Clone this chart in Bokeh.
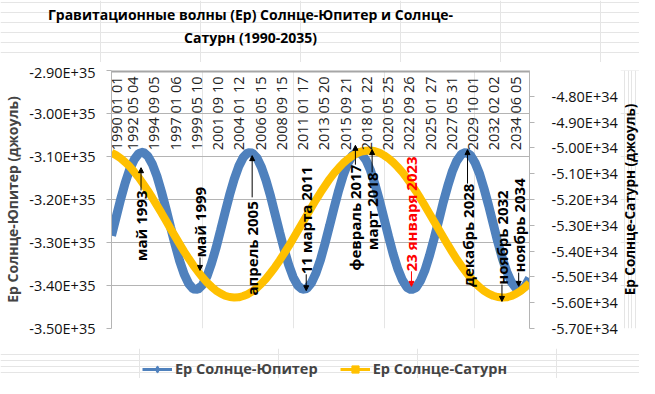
import numpy as np
from datetime import date
from bokeh.plotting import figure
from bokeh.layouts import column, row
from bokeh.models import (Range1d, LinearAxis, FixedTicker, CustomJSTickFormatter,
                          Legend, LegendItem, Span, Arrow, NormalHead,
                          ColumnDataSource, LabelSet, Label)
from bokeh.core.properties import value
from bokeh.embed import file_html
from bokeh.resources import INLINE

FONT = "Open Sans"

# half-year sample points (decimal years)
years = np.arange(1990.0, 2036.01, 0.5)

# Ep Sun-Jupiter, units of 1E+35 J (left axis)
jupiter_e35 = [-3.284, -3.242, -3.200, -3.162, -3.130, -3.107, -3.093, -3.090, -3.099, -3.118,
               -3.146, -3.182, -3.222, -3.264, -3.305, -3.343, -3.374, -3.396, -3.408, -3.409,
               -3.399, -3.379, -3.349, -3.313, -3.272, -3.230, -3.189, -3.153, -3.123, -3.102,
               -3.091, -3.092, -3.103, -3.125, -3.155, -3.192, -3.234, -3.276, -3.316, -3.352,
               -3.381, -3.400, -3.409, -3.407, -3.394, -3.371, -3.340, -3.302, -3.261, -3.219,
               -3.179, -3.144, -3.116, -3.098, -3.090, -3.094, -3.108, -3.132, -3.165, -3.203,
               -3.245, -3.287, -3.327, -3.361, -3.387, -3.404, -3.410, -3.405, -3.389, -3.364,
               -3.330, -3.291, -3.250, -3.207, -3.169, -3.135, -3.110, -3.095, -3.090, -3.097,
               -3.114, -3.140, -3.175, -3.214, -3.256, -3.298, -3.336, -3.368, -3.392, -3.406,
               -3.410, -3.402, -3.383]

# Ep Sun-Saturn, units of 1E+34 J (right axis)
saturn_e34 = [-5.019, -5.028, -5.040, -5.055, -5.072, -5.093, -5.115, -5.140, -5.166, -5.194,
              -5.223, -5.252, -5.282, -5.313, -5.343, -5.373, -5.402, -5.429, -5.455, -5.479,
              -5.501, -5.521, -5.538, -5.553, -5.564, -5.573, -5.578, -5.580, -5.579, -5.574,
              -5.567, -5.556, -5.543, -5.526, -5.507, -5.485, -5.462, -5.436, -5.409, -5.381,
              -5.351, -5.321, -5.291, -5.261, -5.231, -5.201, -5.173, -5.147, -5.121, -5.098,
              -5.078, -5.059, -5.044, -5.031, -5.021, -5.014, -5.011, -5.010, -5.013, -5.019,
              -5.029, -5.041, -5.056, -5.074, -5.094, -5.117, -5.142, -5.168, -5.196, -5.225,
              -5.255, -5.285, -5.315, -5.345, -5.375, -5.404, -5.432, -5.457, -5.481, -5.503,
              -5.523, -5.540, -5.554, -5.565, -5.573, -5.578, -5.580, -5.579, -5.574, -5.566,
              -5.555, -5.541, -5.524]

date_labels = ["1990 01 01", "1992 05 04", "1994 09 05", "1997 01 06", "1999 05 10",
               "2001 09 10", "2004 01 12", "2006 05 15", "2008 09 15", "2011 01 17",
               "2013 05 20", "2015 09 21", "2018 01 22", "2020 05 25", "2022 09 26",
               "2025 01 27", "2027 05 31", "2029 10 01", "2032 02 02", "2034 06 05"]

left_ticks = [-3.5, -3.4, -3.3, -3.2, -3.1, -3.0, -2.9]
right_ticks = [-5.7, -5.6, -5.5, -5.4, -5.3, -5.2, -5.1, -5.0, -4.9, -4.8]

title_line1 = "Гравитационные волны (Ер) Солнце-Юпитер и Солнце-"
title_line2 = "Сатурн (1990-2035)"
left_label = "Ер Солнце-Юпитер (джоуль)"
right_label = "Ер Солнце-Сатурн (джоуль)"
series_names = ["Ер Солнце-Юпитер", "Ер Солнце-Сатурн"]

# annotations (position in decimal years, text edge and arrow tip in left-axis units)
ann_text = ["май 1993", "май 1999", "апрель  2005", "11 марта 2011", "февраль 2017",
            "март 2018", "23 января 2023", "декабрь 2028", "ноябрь 2032", "ноябрь 2034"]
ann_year = [1993.25, 1999.74, 2005.48, 2011.43, 2016.84, 2018.68, 2023.01, 2029.18, 2032.97, 2034.81]
ann_dir = ["up", "down", "up", "down", "up", "up", "down", "up", "down", "down"]
ann_edge = [-3.179, -3.335, -3.195, -3.374, -3.119, -3.137, -3.367, -3.163, -3.398, -3.370]
ann_tip = [-3.126, -3.365, -3.098, -3.412, -3.074, -3.084, -3.402, -3.084, -3.437, -3.402]
ann_color = ["black", "black", "black", "black", "black", "black", "red", "black", "black", "black"]

BLUE = "#4F81BD"
GOLD = "#FFC000"
GRID = "#b4b4b4"


def dec_year(s):
    y, m, d = map(int, s.split())
    return y + (date(y, m, d) - date(y, 1, 1)).days / 365.25


tick_pos = [dec_year(s) for s in date_labels]


def bare(fig):
    fig.outline_line_color = None
    fig.background_fill_color = "white"
    fig.border_fill_color = "white"
    return fig


# ---------------- title strip ----------------
pt = bare(figure(width=639, height=62, output_backend="svg", toolbar_location=None,
                 x_range=Range1d(0, 639), y_range=Range1d(0, 62),
                 x_axis_location=None, y_axis_location=None, min_border=0))
pt.add_layout(Label(x=250, y=48, text=title_line1, text_align="center", text_baseline="middle",
                    text_font=FONT, text_font_style="bold", text_font_size="14px",
                    text_color="black"))
pt.add_layout(Label(x=250, y=25, text=title_line2, text_align="center", text_baseline="middle",
                    text_font=FONT, text_font_style="bold", text_font_size="14px",
                    text_color="black"))

# ---------------- main chart ----------------
p = bare(figure(width=620, height=286, output_backend="svg", toolbar_location=None,
                x_range=Range1d(1990, 2036), y_range=Range1d(-3.5, -2.9),
                x_axis_location=None,
                min_border_left=105, min_border_right=90, min_border_top=8, min_border_bottom=20))
p.extra_y_ranges = {"right": Range1d(-5.7, -4.7)}

ya = p.yaxis[0]
ya.ticker = FixedTicker(ticks=left_ticks)
ya.formatter = CustomJSTickFormatter(code="return tick.toFixed(2) + 'E+35';")
ya.axis_line_color = GRID
ya.major_tick_line_color = GRID
ya.major_tick_out = 5
ya.major_tick_in = 0
ya.minor_tick_line_color = None
ya.major_label_standoff = 11
ya.major_label_text_font = FONT
ya.major_label_text_font_size = "14.5px"
ya.major_label_text_color = "#111111"
ya.axis_label = left_label
ya.axis_label_text_font = FONT
ya.axis_label_text_font_style = "bold"
ya.axis_label_text_font_size = "14px"
ya.axis_label_standoff = 4

ra = LinearAxis(y_range_name="right", ticker=FixedTicker(ticks=right_ticks),
                formatter=CustomJSTickFormatter(code="return tick.toFixed(2) + 'E+34';"))
ra.axis_line_color = GRID
ra.major_tick_line_color = GRID
ra.major_tick_out = 5
ra.major_tick_in = 0
ra.minor_tick_line_color = None
ra.major_label_standoff = 17
ra.major_label_text_font = FONT
ra.major_label_text_font_size = "14.5px"
ra.major_label_text_color = "#111111"
p.add_layout(ra, "right")

p.ygrid.ticker = FixedTicker(ticks=left_ticks)
p.ygrid.grid_line_color = GRID

p.add_layout(Span(location=-2.9, dimension="width", line_color="#a6a6a6", line_width=4))

p.line(years, jupiter_e35, line_color=BLUE, line_width=9)
p.line(years, saturn_e34, line_color=GOLD, line_width=8, y_range_name="right")

# date labels along the top (first one nudged so it is not cut by the frame edge)
dx = [5 if i == 0 else 0 for i in range(len(tick_pos))]
tsrc = ColumnDataSource(dict(x=tick_pos, y=[-2.9] * len(tick_pos), text=date_labels, dx=dx))
p.add_layout(LabelSet(x="x", y="y", text="text", source=tsrc, angle=np.pi / 2, x_offset="dx",
                      text_align="right", text_baseline="middle", y_offset=-6,
                      text_font=value(FONT), text_font_size=value("14.5px"),
                      text_color=value("#222222")))

for d in ("up", "down"):
    idx = [i for i, v in enumerate(ann_dir) if v == d]
    src = ColumnDataSource(dict(x=[ann_year[i] for i in idx], y=[ann_edge[i] for i in idx],
                                text=[ann_text[i] for i in idx], color=[ann_color[i] for i in idx]))
    p.add_layout(LabelSet(x="x", y="y", text="text", source=src, angle=np.pi / 2,
                          text_align="right" if d == "up" else "left", text_baseline="middle",
                          text_font=value(FONT), text_font_style=value("bold"),
                          text_font_size=value("15px"), text_color="color"))

for xx, ys, yt, col in zip(ann_year, ann_edge, ann_tip, ann_color):
    p.add_layout(Arrow(end=NormalHead(size=5, fill_color=col, line_color=col, line_width=1),
                       x_start=xx, y_start=ys, x_end=xx, y_end=yt,
                       line_color=col, line_width=1))

# ---------------- right axis title strip ----------------
pr = bare(figure(width=19, height=286, output_backend="svg", toolbar_location=None,
                 x_range=Range1d(0, 1), y_range=Range1d(-3.5, -2.9),
                 x_axis_location=None, y_axis_location=None,
                 min_border_left=0, min_border_right=0, min_border_top=8, min_border_bottom=20))
pr.add_layout(Label(x=0.5, y=-3.2, text=right_label, angle=np.pi / 2,
                    text_align="center", text_baseline="middle",
                    text_font=FONT, text_font_style="bold", text_font_size="13.5px",
                    text_color="black"))

# ---------------- legend strip ----------------
# legend keys come from series renderers that are not drawn in this strip
pl = bare(figure(width=639, height=30, output_backend="svg", toolbar_location=None,
                 x_range=Range1d(1990, 2036), y_range=Range1d(0, 1),
                 x_axis_location=None, y_axis_location=None, min_border=0))
lj1 = pl.line(years, jupiter_e35, line_color=BLUE, line_width=3, visible=False)
lj2 = pl.scatter(years, jupiter_e35, marker="diamond", size=8, fill_color=BLUE, line_color=BLUE,
                 visible=False)
ls1 = pl.line(years, saturn_e34, line_color=GOLD, line_width=3, visible=False)
ls2 = pl.scatter(years, saturn_e34, marker="square", size=6, fill_color=GOLD, line_color=GOLD,
                 visible=False)
legend = Legend(items=[LegendItem(label=series_names[0], renderers=[lj1, lj2]),
                       LegendItem(label=series_names[1], renderers=[ls1, ls2])],
                orientation="horizontal", location=(142, 0),
                border_line_color=None, background_fill_alpha=0,
                inactive_fill_alpha=0,
                label_text_font=FONT, label_text_font_style="bold",
                label_text_font_size="14.5px", glyph_width=30, glyph_height=18,
                label_standoff=3, spacing=22, padding=0, margin=0)
pl.add_layout(legend)

layout = column(pt, row(p, pr), pl)
open("out.html", "w").write(file_html(layout, INLINE))
